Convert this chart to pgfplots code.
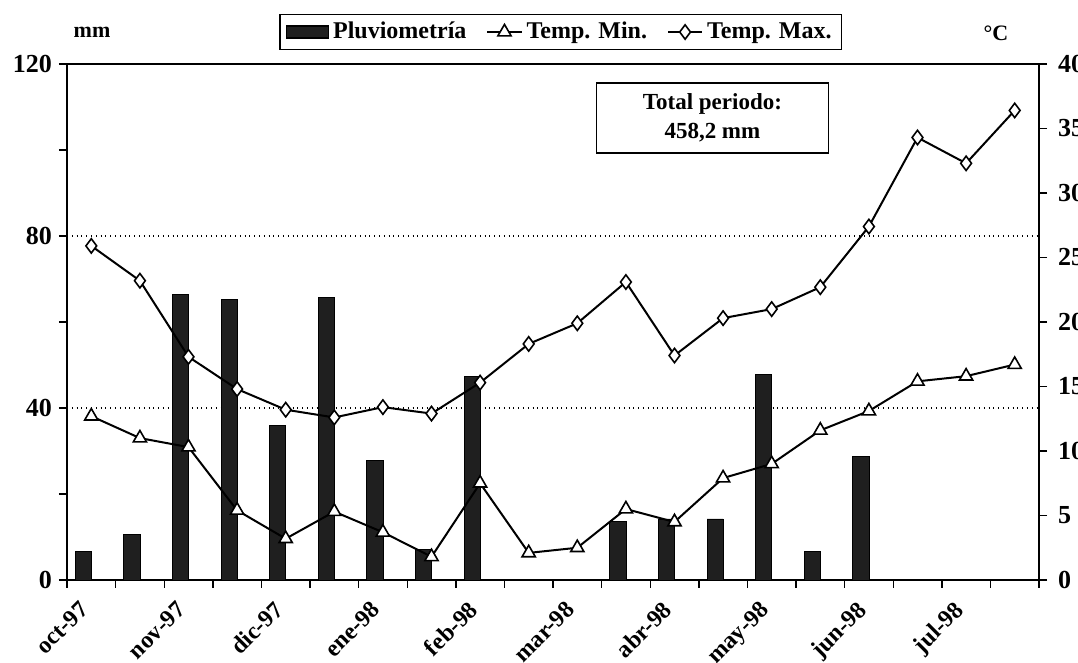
\documentclass[border=0pt]{standalone}
\usepackage{fontspec}
\setmainfont{Liberation Serif}
\usepackage{pgfplots}
\pgfplotsset{compat=1.18}

% rainfall (mm), half-month slots 0..19, centre at i+0.5
\pgfplotstableread{
x    mm
0.5  6.6
1.5  10.5
2.5  66.5
3.5  65.3
4.5  36.0
5.5  65.8
6.5  27.9
7.5  7.0
8.5  47.3
11.5 13.7
12.5 14.2
13.5 14.2
14.5 47.9
15.5 6.7
16.5 28.8
}\rain

% temperatures (degC)
\pgfplotstableread{
x    tmin tmax
0.5  12.7 25.9
1.5  11.0 23.2
2.5  10.3 17.3
3.5  5.4  14.8
4.5  3.2  13.2
5.5  5.3  12.6
6.5  3.7  13.4
7.5  1.8  12.9
8.5  7.5  15.3
9.5  2.1  18.3
10.5 2.5  19.9
11.5 5.5  23.1
12.5 4.5  17.4
13.5 7.9  20.3
14.5 9.0  21.0
15.5 11.6 22.7
16.5 13.1 27.4
17.5 15.4 34.3
18.5 15.8 32.3
19.5 16.7 36.4
}\temps

\pgfplotsset{
  base/.style={
    at={(33.5pt,41.5pt)}, anchor=south west,
    scale only axis, width=486pt, height=258pt,
    xmin=0, xmax=20,
    axis line style={line width=0.8pt},
    tick style={line width=0.7pt, black},
    tick align=outside,
    major tick length=4pt, minor tick length=4pt,
    ticklabel style={font=\fontsize{13}{13}\selectfont\bfseries},
    /pgf/number format/assume math mode=true,
  },
}

\begin{document}
\begin{tikzpicture}
\useasboundingbox (0,0) rectangle (539pt,331.5pt);

% left axis: rainfall bars
\begin{axis}[base,
  ymin=0, ymax=120,
  ytick={0,40,80,120}, minor ytick={20,60,100},
  ytick pos=left, xtick pos=left,
  ymajorgrids, grid style={dotted, line width=0.6pt, black},
  xtick={0,...,20},
  xticklabels={oct-97,,nov-97,,dic-97,,ene-98,,feb-98,,mar-98,,abr-98,,may-98,,jun-98,,jul-98,,},
  xticklabel style={font=\fontsize{12}{12}\selectfont\bfseries, rotate=45, anchor=north east, inner sep=1pt, xshift=1pt, yshift=-7pt},
]
\addplot[ybar, bar width=0.33, bar shift=-0.165, fill=black!88, draw=black] table[x=x, y=mm] {\rain};
\end{axis}

% right axis: temperatures
\begin{axis}[base,
  ymin=0, ymax=40,
  ytick={0,5,...,40},
  axis x line=none, axis y line*=right,
  yticklabel style={xshift=2pt},
  legend columns=3,
  legend style={at={(0.508,1.062)}, anchor=center, draw=black, line width=0.6pt,
    font=\fontsize{12}{12}\selectfont\bfseries, inner xsep=3pt,
    /tikz/every even column/.append style={column sep=8pt}},
]
\addlegendimage{legend image code/.code={\draw[fill=black!88, draw=black] (0pt,-3pt) rectangle (21pt,3pt);}}
\addlegendentry{Pluviometría}
\addplot[black, line width=1pt, mark=triangle*, mark size=3.8pt,
  mark options={fill=white, line width=0.8pt}] table[x=x, y=tmin] {\temps};
\addlegendentry{Temp. Min.}
\addplot[black, line width=1pt, mark=diamond*, mark size=3.6pt,
  mark options={fill=white, line width=0.8pt}] table[x=x, y=tmax] {\temps};
\addlegendentry{Temp. Max.}
\node[draw=black, line width=0.8pt, fill=white, align=center,
  font=\fontsize{11.5}{14.5}\selectfont\bfseries,
  minimum width=116pt, minimum height=35pt]
  at (rel axis cs:0.664,0.895) {Total periodo:\\458,2 mm};
\end{axis}

\node[font=\fontsize{11}{11}\selectfont\bfseries] at (46pt,315.5pt) {mm};
\node[font=\fontsize{11}{11}\selectfont\bfseries] at (498pt,315pt) {°C};
\end{tikzpicture}
\end{document}
